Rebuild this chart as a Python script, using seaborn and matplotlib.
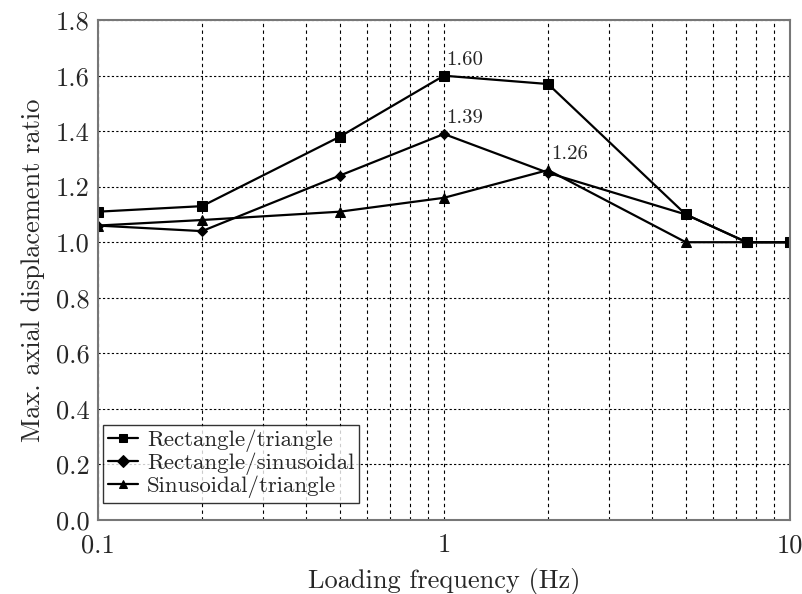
import matplotlib
matplotlib.use("Agg")
import matplotlib.pyplot as plt
import seaborn as sns
import pandas as pd
from matplotlib.ticker import FixedLocator, FixedFormatter, LogLocator, NullFormatter

freq = [0.1, 0.2, 0.5, 1, 2, 5, 7.5, 10]
rect_tri = [1.11, 1.13, 1.38, 1.60, 1.57, 1.10, 1.00, 1.00]
rect_sin = [1.06, 1.04, 1.24, 1.39, 1.25, 1.10, 1.00, 1.00]
sin_tri = [1.06, 1.08, 1.11, 1.16, 1.26, 1.00, 1.00, 1.00]
series_names = ["Rectangle/triangle", "Rectangle/sinusoidal", "Sinusoidal/triangle"]
peak_labels = ["1.60", "1.39", "1.26"]
peak_x = [1, 1, 2]
peak_y = [1.60, 1.39, 1.26]
yticks = [0.0, 0.2, 0.4, 0.6, 0.8, 1.0, 1.2, 1.4, 1.6, 1.8]
xticks = [0.1, 1, 10]
xticklabels = ["0.1", "1", "10"]

rows = []
for name, vals in zip(series_names, [rect_tri, rect_sin, sin_tri]):
    for f, v in zip(freq, vals):
        rows.append({"freq": f, "ratio": v, "series": name})
df = pd.DataFrame(rows)

sns.set_style("white")
plt.rcParams["font.family"] = ["cmr10", "DejaVu Serif"]
plt.rcParams["axes.formatter.use_mathtext"] = True
plt.rcParams["mathtext.fontset"] = "cm"

fig = plt.figure(figsize=(8.02, 5.94), dpi=100)
ax = fig.add_axes([0.122, 0.125, 0.863, 0.841])

sns.lineplot(data=df, x="freq", y="ratio", hue="series", style="series",
             hue_order=series_names, style_order=series_names,
             palette=["black"] * 3, markers=["s", "D", "^"], dashes=False,
             markersize=7, linewidth=1.6, markeredgecolor="black", ax=ax)
for line, ms in zip(ax.get_lines(), [7.5, 5.5, 7]):
    line.set_markersize(ms)

ax.set_xscale("log")
ax.set_xlim(0.1, 10)
ax.set_ylim(0, 1.8)

ax.xaxis.set_major_locator(FixedLocator(xticks))
ax.xaxis.set_major_formatter(FixedFormatter(xticklabels))
ax.xaxis.set_minor_locator(LogLocator(base=10, subs=[2, 3, 4, 5, 6, 7, 8, 9]))
ax.xaxis.set_minor_formatter(NullFormatter())
ax.set_yticks(yticks)
ax.set_yticklabels([f"{t:.1f}" for t in yticks])

ax.grid(which="both", axis="x", linestyle=(0, (3, 3)), color="black", linewidth=0.8)
ax.grid(which="major", axis="y", linestyle=(0, (2, 2)), color="black", linewidth=0.8)

ax.tick_params(axis="both", which="major", direction="in", length=5, labelsize=19, width=1)
ax.tick_params(axis="x", which="minor", direction="in", length=3, width=1)
ax.tick_params(axis="x", pad=10)
ax.tick_params(axis="y", pad=6)

for s in ax.spines.values():
    s.set_color("#777777")
    s.set_linewidth(1.5)

ax.set_xlabel("Loading frequency (Hz)", fontsize=19, labelpad=8)
ax.set_ylabel("Max. axial displacement ratio", fontsize=19, labelpad=8)

for lbl, px, py in zip(peak_labels, peak_x, peak_y):
    ax.annotate(lbl, (px, py), xytext=(2, 5), textcoords="offset points",
                fontsize=15, ha="left", va="bottom")

leg = ax.legend(loc="lower left", bbox_to_anchor=(0.008, 0.034), fontsize=16.5,
                frameon=True, fancybox=False,
                edgecolor="black", handlelength=1.3, handletextpad=0.4,
                borderpad=0.2, labelspacing=0.02, borderaxespad=0.0)
leg.get_frame().set_linewidth(1.0)
for h in leg.legend_handles:
    h.set_markersize(6)

fig.savefig("out.png", dpi=100)
